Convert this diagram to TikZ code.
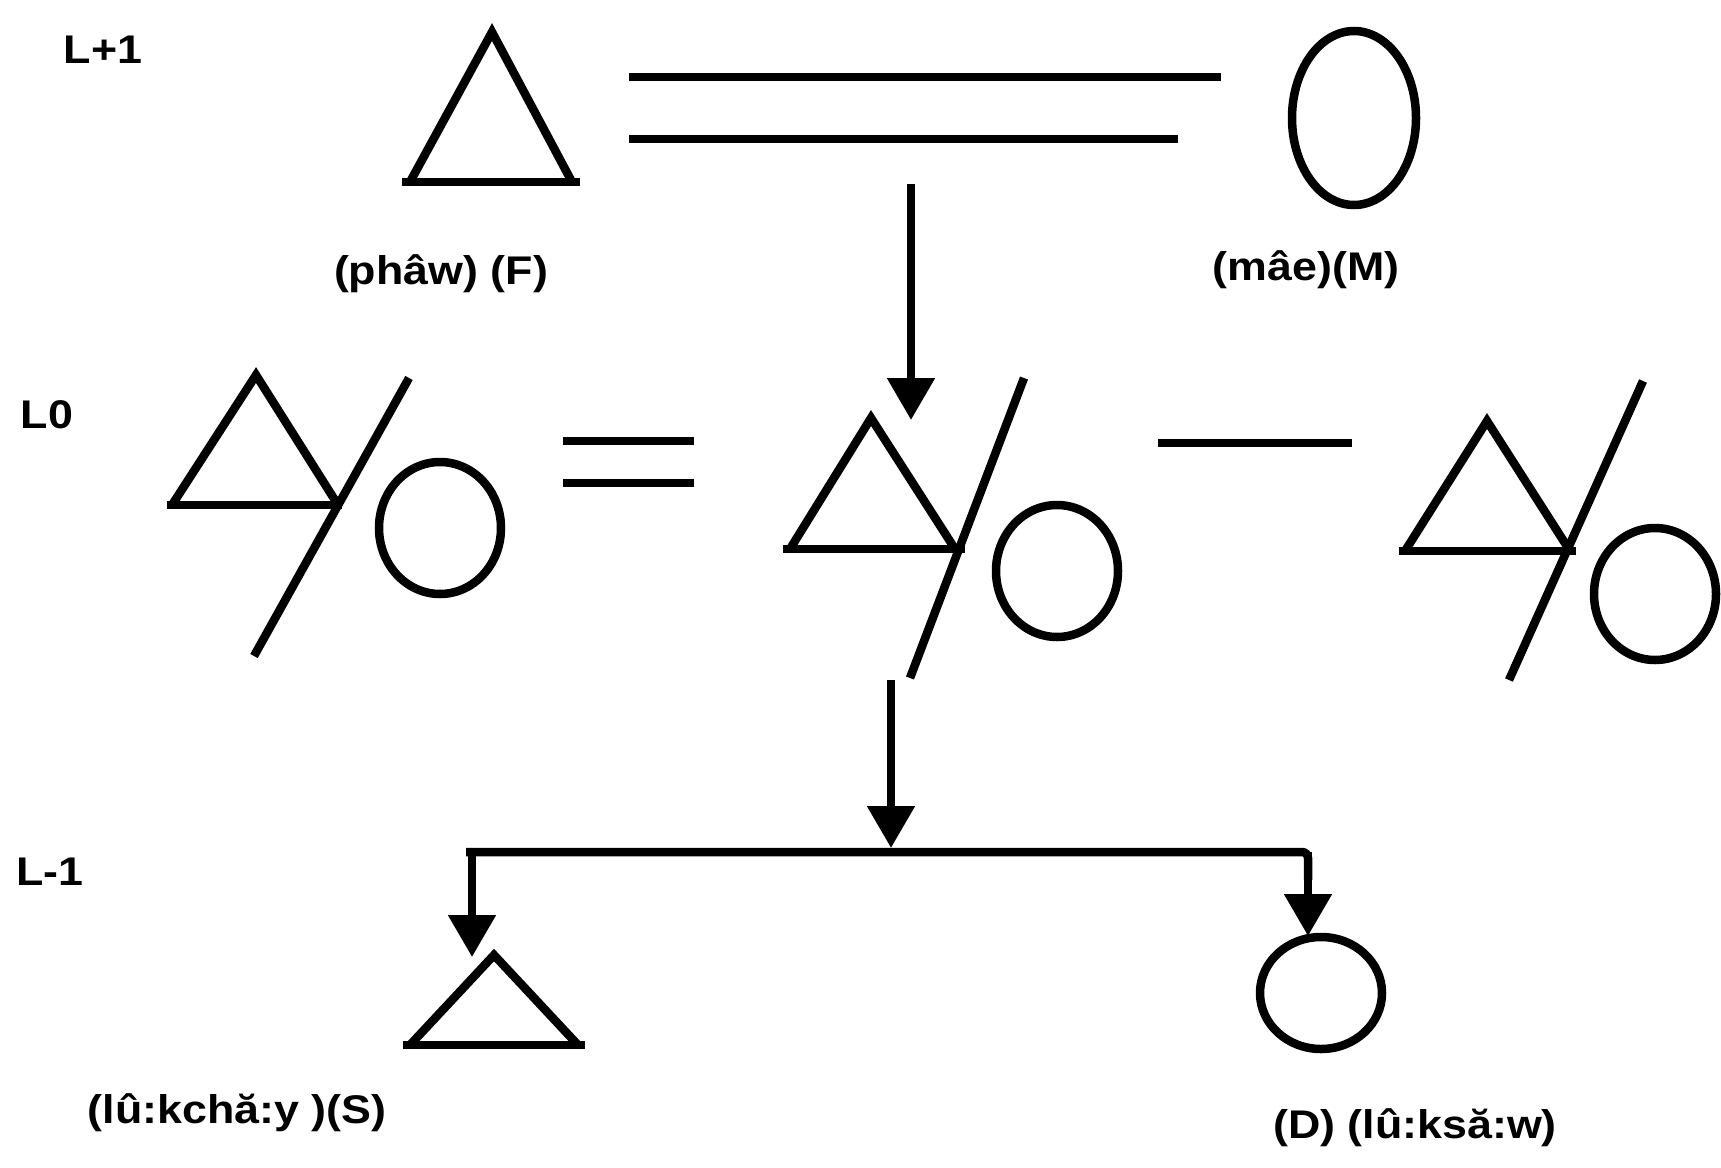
\documentclass[tikz,border=0pt]{standalone}
\usepackage{fontspec}
\setmainfont{Liberation Sans}[FakeStretch=1.12]
\usetikzlibrary{arrows.meta}

\begin{document}
\begin{tikzpicture}[x=1pt,y=-1pt,line width=8.5pt,>={Triangle[width=46pt,length=42pt]},
  lbl/.style={font=\fontsize{40}{42}\selectfont\bfseries,inner sep=0pt},
  sym/.style={line join=miter}]
 \useasboundingbox (0,0) rectangle (1721,1167);
 % generation labels
 \node[lbl] (lplus) at (103,50) {L+1};
 \node[lbl] (lzero) at (47,415) {L0};
 \node[lbl] (lminus) at (50,872) {L-1};
 % parents
 \draw[sym] (410,182) -- (492,32) -- (572,182);
 \draw (402,182) -- (580,182);
 \draw (1354,118) ellipse[x radius=62,y radius=87];
 \draw (629,77) -- (1221,77);
 \draw (629,139) -- (1178,139);
 \node[lbl] (father) at (441,274) {(phâw) (F)};
 \node[lbl] (mother) at (1306,270) {(mâe)(M)};
 % ego and siblings
 \draw[sym] (172,505) -- (256,375) -- (338,505);
 \draw (167,505) -- (342,505);
 \draw (409,378) -- (254,656);
 \draw (440,528) ellipse[x radius=61,y radius=66];
 \draw (563,441) -- (694,441);
 \draw (563,483) -- (694,483);
 \draw[sym] (790,549) -- (871,418) -- (955,549);
 \draw (783,549) -- (965,549);
 \draw (1024,378) -- (910,678);
 \draw (1057,571) ellipse[x radius=61,y radius=66];
 \draw (1158,443) -- (1352,443);
 \draw[sym] (1405,551) -- (1487,421) -- (1570,551);
 \draw (1399,551) -- (1576,551);
 \draw (1643,381) -- (1509,680);
 \draw (1655,594) ellipse[x radius=61,y radius=66];
 % children
 \draw[sym] (410,1045) -- (494,955) -- (578,1045);
 \draw (403,1045) -- (585,1045);
 \draw (1321,993) ellipse[x radius=61,y radius=56];
 \node[lbl] (son) at (237,1113) {(lû:kchă:y )(S)};
 \node[lbl] (daughter) at (1415,1128) {(D) (lû:ksă:w)};
 % descent lines
 \coordinate (marr) at (911,184);
 \coordinate (ego) at (911,420);
 \coordinate (egofoot) at (891,680);
 \coordinate (sibs) at (891,848);
 \coordinate (sibl) at (472,852);
 \coordinate (sibr) at (1308,852);
 \coordinate (sontop) at (472,957);
 \coordinate (dautop) at (1308,936);
 \draw[->] (marr) -- (ego);
 \draw[->] (egofoot) -- (sibs);
 \draw[rounded corners=6pt] (466,852) -- (sibr) -- (1308,880);
 \draw[->] (sibl) -- (sontop);
 \draw[->] (sibr) -- (dautop);
\end{tikzpicture}
\end{document}
